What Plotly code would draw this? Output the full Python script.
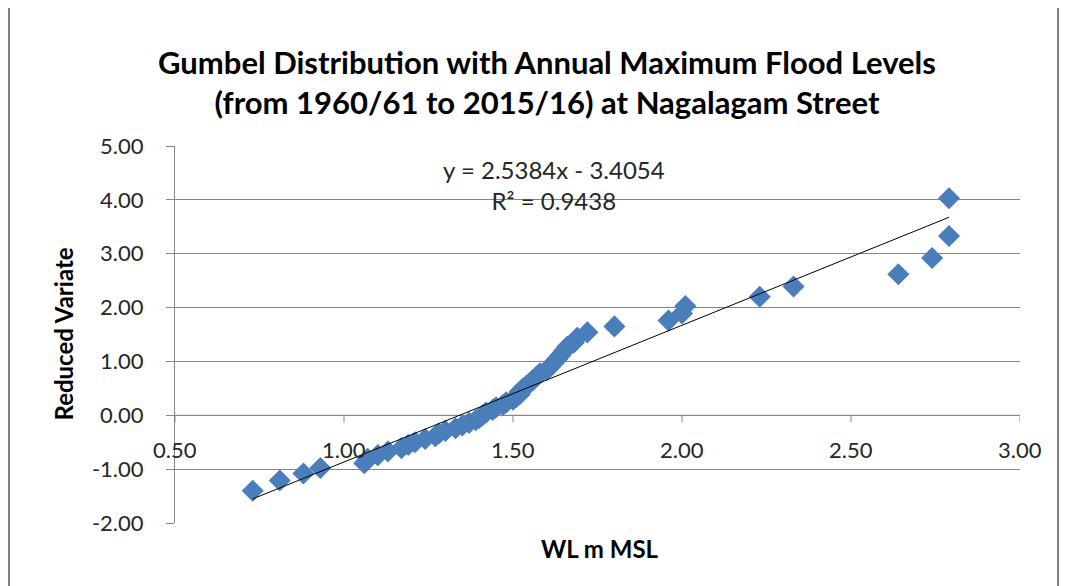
import plotly.graph_objects as go

# Water level (m MSL) ranked descending, and Gumbel reduced variate
wl = [2.79, 2.79, 2.74, 2.64, 2.33, 2.23, 2.01, 2.00, 1.96, 1.80,
      1.72, 1.69, 1.68, 1.66, 1.65, 1.64, 1.63, 1.62, 1.61, 1.60,
      1.58, 1.57, 1.56, 1.55, 1.54, 1.53, 1.52, 1.52, 1.51, 1.50,
      1.48, 1.47, 1.45, 1.44, 1.42, 1.41, 1.40, 1.39, 1.37, 1.35,
      1.33, 1.30, 1.28, 1.27, 1.24, 1.21, 1.19, 1.17, 1.13, 1.10,
      1.07, 1.06, 0.93, 0.88, 0.81, 0.73]
reduced_variate = [4.03, 3.33, 2.92, 2.62, 2.39, 2.20, 2.03, 1.89, 1.76, 1.65,
                   1.54, 1.44, 1.35, 1.27, 1.19, 1.11, 1.04, 0.97, 0.90, 0.84,
                   0.78, 0.72, 0.66, 0.60, 0.55, 0.50, 0.44, 0.39, 0.34, 0.29,
                   0.24, 0.19, 0.15, 0.10, 0.05, 0.00, -0.05, -0.09, -0.14, -0.19,
                   -0.24, -0.29, -0.34, -0.39, -0.44, -0.50, -0.55, -0.61, -0.67, -0.74,
                   -0.81, -0.89, -0.98, -1.08, -1.21, -1.40]

slope = 2.5384
intercept = -3.4054
r_squared = 0.9438

x_ticks = [0.5, 1.0, 1.5, 2.0, 2.5, 3.0]
x_ticklabels = ["0.50", "1.00", "1.50", "2.00", "2.50", "3.00"]
y_ticks = [-2, -1, 0, 1, 2, 3, 4, 5]
y_ticklabels = ["-2.00", "-1.00", "0.00", "1.00", "2.00", "3.00", "4.00", "5.00"]

FONT = "Lato, 'Open Sans', sans-serif"
GRID = "#868686"
TXT = "#262626"

ML, MR, MT, MB = 167, 57, 138, 71
PW, PH = 1069 - ML - MR, 586 - MT - MB

fig = go.Figure()

xmin, xmax = min(wl), max(wl)
fig.add_trace(go.Scatter(
    x=wl, y=reduced_variate, mode="markers",
    marker=dict(symbol="diamond", size=17, color="#4A7EBB", line=dict(width=0)),
    showlegend=False, hoverinfo="x+y"))
fig.add_trace(go.Scatter(
    x=[xmin, xmax], y=[slope * xmin + intercept, slope * xmax + intercept],
    mode="lines", line=dict(color="black", width=1), showlegend=False, hoverinfo="skip"))

# x-axis drawn at y = 0 (Excel style crossing)
shapes = [dict(type="line", xref="x", yref="y", x0=x_ticks[0], x1=x_ticks[-1], y0=0, y1=0,
               line=dict(color=GRID, width=1), layer="below")]
annotations = []
for t, lab in zip(x_ticks, x_ticklabels):
    shapes.append(dict(type="line", xref="x", yref="y", xsizemode="scaled",
                       ysizemode="pixel", yanchor=0, x0=t, x1=t, y0=0, y1=-7,
                       line=dict(color=GRID, width=1)))
    annotations.append(dict(x=t, y=0, xref="x", yref="y", text=lab, showarrow=False,
                            yanchor="middle", yshift=-34,
                            font=dict(family=FONT, size=22, color=TXT)))

# trendline equation
annotations.append(dict(x=1.62, y=4.28, xref="x", yref="y", showarrow=False,
                        xanchor="center", yanchor="middle", align="center",
                        text=f"y = {slope}x - {abs(intercept)}<br>R² = {r_squared}",
                        font=dict(family=FONT, size=24, color=TXT)))
# axis titles
annotations.append(dict(x=(55 - ML) / PW, y=0.5, xref="paper", yref="paper", showarrow=False,
                        textangle=-90, xanchor="center", yanchor="middle",
                        text="<b>Reduced Variate</b>",
                        font=dict(family=FONT, size=24, color="black")))
annotations.append(dict(x=(592 - ML) / PW, y=-(540 - (MT + PH)) / PH, xref="paper", yref="paper",
                        showarrow=False, xanchor="center", yanchor="middle",
                        text="<b>WL m MSL</b>",
                        font=dict(family=FONT, size=24, color="black")))

# chart-area border (left and right edges)
for fx in (1, 1050):
    shapes.append(dict(type="line", xref="paper", yref="paper",
                       x0=(fx - ML) / PW, x1=(fx - ML) / PW, y0=-0.3, y1=1.5,
                       line=dict(color="#7f7f7f", width=2)))

fig.update_layout(
    width=1069, height=586,
    paper_bgcolor="white", plot_bgcolor="white",
    margin=dict(l=ML, r=MR, t=MT, b=MB, autoexpand=False),
    title=dict(text="<b>Gumbel Distribution with Annual Maximum Flood Levels<br>(from 1960/61 to 2015/16) at Nagalagam Street</b>",
               x=539 / 1069, xanchor="center", y=1 - 66 / 586, yanchor="middle",
               font=dict(family=FONT, size=31, color="black")),
    xaxis=dict(range=[0.5, 3.0], showgrid=False, zeroline=False, showline=False,
               showticklabels=False, ticks=""),
    yaxis=dict(range=[-2, 5], tickvals=y_ticks, ticktext=y_ticklabels,
               showgrid=True, gridcolor=GRID, gridwidth=1, zeroline=False,
               showline=True, linecolor=GRID, linewidth=1, ticks="outside", ticklen=8,
               tickcolor=GRID, ticklabelstandoff=18,
               tickfont=dict(family=FONT, size=22, color=TXT)),
    shapes=shapes,
    annotations=annotations,
)

fig.write_html("out.html")
